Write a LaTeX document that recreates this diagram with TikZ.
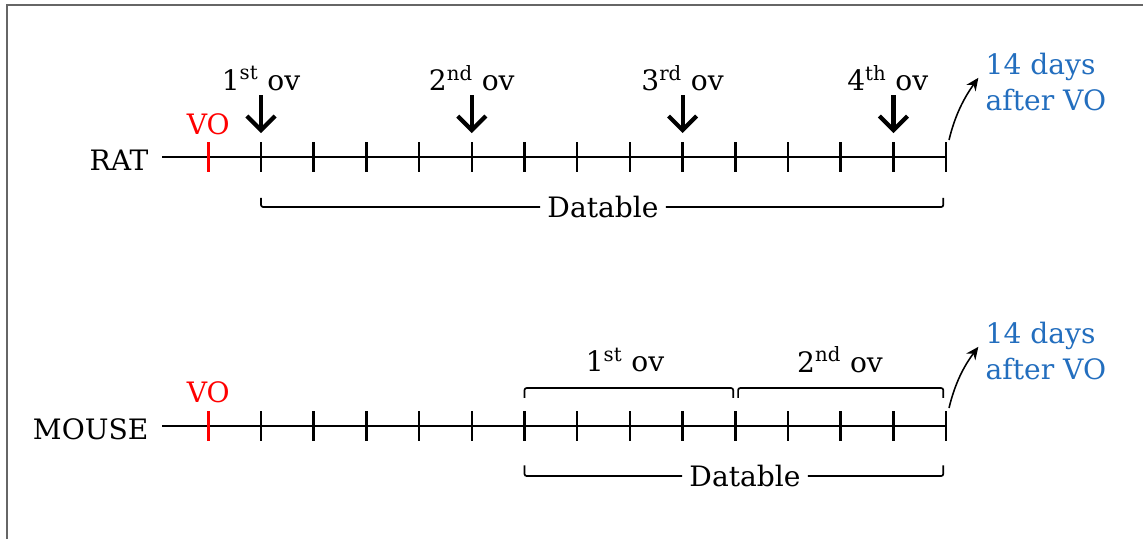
\documentclass[tikz,border=0pt]{standalone}
\usepackage{fontspec}
\setmainfont{DejaVu Serif}
\usetikzlibrary{arrows.meta}
\definecolor{dayblue}{RGB}{35,110,190}

\tikzset{
  lbl/.style={font=\fontsize{20}{25}\selectfont, inner sep=1pt},
  axis/.style={line width=1.4pt},
  tickmark/.style={line width=1.8pt},
  ovarrow/.style={line width=3pt, -{Straight Barb[length=10pt,width=20pt]}},
  bracket/.style={line width=1.2pt, rounded corners=1.5pt},
  dayarrow/.style={line width=1.1pt, -{Stealth[length=9pt,width=8pt]}},
}

\begin{document}
\begin{tikzpicture}[x=0.025cm, y=-0.025cm]
  \useasboundingbox (0,0) rectangle (1143,539);
  % frame
  \draw[line width=2pt, black!60] (7,539) |- (1143,5);

  % RAT timeline
  \node[lbl, anchor=east] (rat) at (150,160) {RAT};
  \coordinate (rs) at (162,157);
  \coordinate (re) at (946,157);
  \draw[axis] (rs) -- (re);
  \foreach \k in {0,...,14} {
    \coordinate (r\k) at (208.3+52.7*\k,157);
  }
  \draw[tickmark, red] (208.3,142) -- (208.3,172);
  \foreach \k in {1,...,14} {
    \draw[tickmark] (208.3+52.7*\k,142) -- (208.3+52.7*\k,172);
  }
  \node[lbl, red] (vor) at ([yshift=23pt]r0) {VO};

  % ovulations
  \node[lbl] (ov1) at ([yshift=56pt]r1) {1\textsuperscript{st} ov};
  \node[lbl] (ov2) at ([yshift=56pt]r5) {2\textsuperscript{nd} ov};
  \node[lbl] (ov3) at ([yshift=56pt]r9) {3\textsuperscript{rd} ov};
  \node[lbl] (ov4) at ([xshift=-4pt,yshift=56pt]r13) {4\textsuperscript{th} ov};
  \draw[ovarrow] ([yshift=44pt]r1) -- ([yshift=17pt]r1);
  \draw[ovarrow] ([yshift=44pt]r5) -- ([yshift=17pt]r5);
  \draw[ovarrow] ([yshift=44pt]r9) -- ([yshift=17pt]r9);
  \draw[ovarrow] ([yshift=44pt]r13) -- ([yshift=17pt]r13);

  % datable
  \node[lbl, inner sep=5pt] (datr) at (603,207) {Datable};
  \draw[bracket] ([yshift=-29pt]r1) |- (datr.west);
  \draw[bracket] ([xshift=-2pt,yshift=-29pt]r14) |- (datr.east);

  % 14 days
  \node[lbl, dayblue, align=left, anchor=west] (dayr) at (984,82) {14 days\\after VO};
  \coordinate (rt) at (949,140);
  \draw[dayarrow] (rt) .. controls (955,115) and (964,98) .. ([xshift=-4pt,yshift=3pt]dayr.west);

  % MOUSE timeline
  \node[lbl, anchor=east] (mouse) at (150,429) {MOUSE};
  \coordinate (ms) at (162,426);
  \coordinate (me) at (946,426);
  \draw[axis] (ms) -- (me);
  \foreach \k in {0,...,14} {
    \coordinate (m\k) at (208.3+52.7*\k,426);
  }
  \draw[tickmark, red] (208.3,411) -- (208.3,441);
  \foreach \k in {1,...,14} {
    \draw[tickmark] (208.3+52.7*\k,411) -- (208.3+52.7*\k,441);
  }
  \node[lbl, red] (vom) at ([yshift=24pt]m0) {VO};

  % cycles
  \draw[bracket] ([yshift=20pt]m6) -- ([yshift=27pt]m6) -- ([xshift=-1.5pt,yshift=27pt]m10) -- ([xshift=-1.5pt,yshift=20pt]m10);
  \draw[bracket] ([xshift=2pt,yshift=20pt]m10) -- ([xshift=2pt,yshift=27pt]m10) -- ([xshift=-2pt,yshift=27pt]m14) -- ([xshift=-2pt,yshift=20pt]m14);
  \node[lbl] (cy1) at (625,360) {1\textsuperscript{st} ov};
  \node[lbl] (cy2) at (840,360) {2\textsuperscript{nd} ov};

  % datable
  \node[lbl, inner sep=5pt] (datm) at (745,476) {Datable};
  \draw[bracket] ([yshift=-28pt]m6) |- (datm.west);
  \draw[bracket] ([xshift=-2pt,yshift=-28pt]m14) |- (datm.east);

  % 14 days
  \node[lbl, dayblue, align=left, anchor=west] (daym) at (984,351) {14 days\\after VO};
  \coordinate (mt) at (949,408);
  \draw[dayarrow] (mt) .. controls (955,383) and (964,366) .. ([xshift=-4pt,yshift=3pt]daym.west);
\end{tikzpicture}
\end{document}
